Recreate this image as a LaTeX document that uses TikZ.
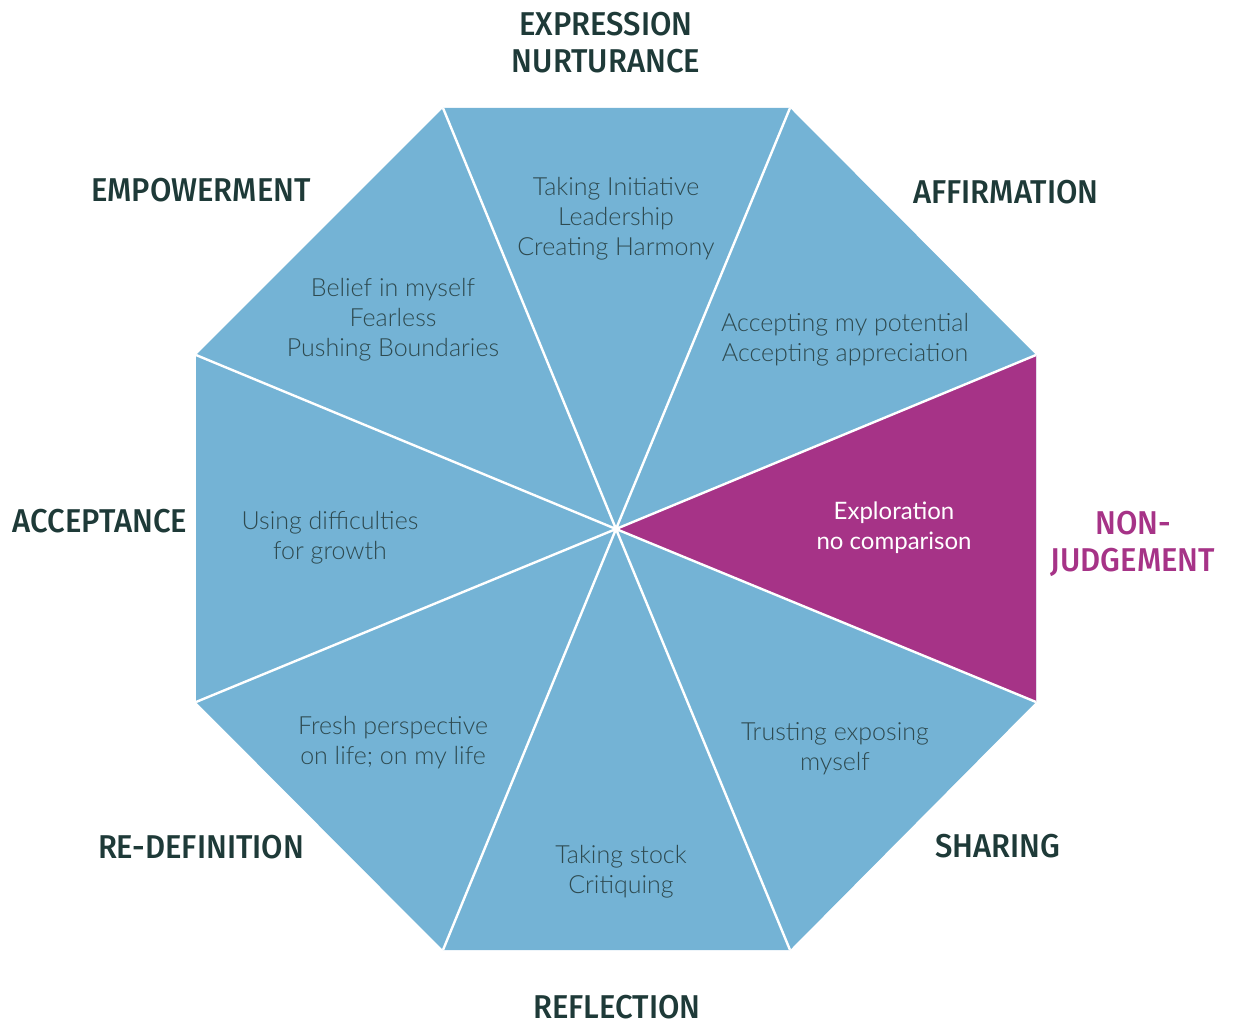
\documentclass[tikz,border=0pt]{standalone}
\usepackage{fontspec}
\setmainfont{Lato Light}
\newfontfamily\headfont{Fira Sans Medium}[FakeStretch=0.94]
\newfontfamily\plainfont{Lato}
\definecolor{sector}{HTML}{74B3D5}
\definecolor{magent}{HTML}{A63387}
\definecolor{ink}{HTML}{1E3A38}
\definecolor{softink}{HTML}{2E4A50}
\tikzset{
  spoke/.style={white,line width=2.4pt},
  head/.style={text=ink,align=center,inner sep=0pt,font=\headfont\fontsize{33}{37}\selectfont},
  inner/.style={text=softink,align=center,inner sep=0pt,font=\fontsize{25}{30}\selectfont}
}

\begin{document}
\begin{tikzpicture}[x=1pt,y=-1pt]
          \useasboundingbox (0,0) rectangle (1233,1024);
          \coordinate (c) at (616,529);
          \coordinate (v1) at (443,108);
          \coordinate (v2) at (790,108);
          \coordinate (v3) at (1036,355);
          \coordinate (v4) at (1036,702);
          \coordinate (v5) at (790,950);
          \coordinate (v6) at (443,950);
          \coordinate (v7) at (196,702);
          \coordinate (v8) at (196,355);

          \fill [sector] (v1) -- (v2) -- (v3) -- (v4) -- (v5) -- (v6) -- (v7) -- (v8) -- cycle;
          \fill [magent] (c) -- (v3) -- (v4) -- cycle;
          \draw [spoke] (c) -- (v1) (c) -- (v2) (c) -- (v3) (c) -- (v4)
                        (c) -- (v5) (c) -- (v6) (c) -- (v7) (c) -- (v8);

          % outer labels
          \node (expression) [head] at (606,43) {EXPRESSION\\NURTURANCE};
          \node (affirmation) [head] at (1006,192) {AFFIRMATION};
          \node (nonjudge) [head,text=magent] at (1133,544) {NON-\\JUDGEMENT};
          \node (sharing) [head] at (998,846.5) {SHARING};
          \node (reflection) [head] at (617,1007) {REFLECTION};
          \node (redefinition) [head] at (201,847) {RE-DEFINITION};
          \node (acceptance) [head] at (100,521) {ACCEPTANCE};
          \node (empowerment) [head] at (201,190.5) {EMPOWERMENT};

          % sector texts
          \node (initiative) [inner] at (616,219) {Taking Initiative\\Leadership\\Creating Harmony};
          \node (potential) [inner] at (845,339.5) {Accepting my potential\\Accepting appreciation};
          \node (exploration) [inner,text=white,font=\plainfont\fontsize{24}{30}\selectfont] at (894,528) {Exploration\\no comparison};
          \node (trusting) [inner] at (835,749) {Trusting exposing\\myself};
          \node (stock) [inner] at (621,872) {Taking stock\\Critiquing};
          \node (fresh) [inner] at (393,742.5) {Fresh perspective\\on life; on my life};
          \node (difficulties) [inner] at (330,538) {Using difficulties\\for growth};
          \node (belief) [inner] at (393,320) {Belief in myself\\Fearless\\Pushing Boundaries};
        \end{tikzpicture}
\end{document}
